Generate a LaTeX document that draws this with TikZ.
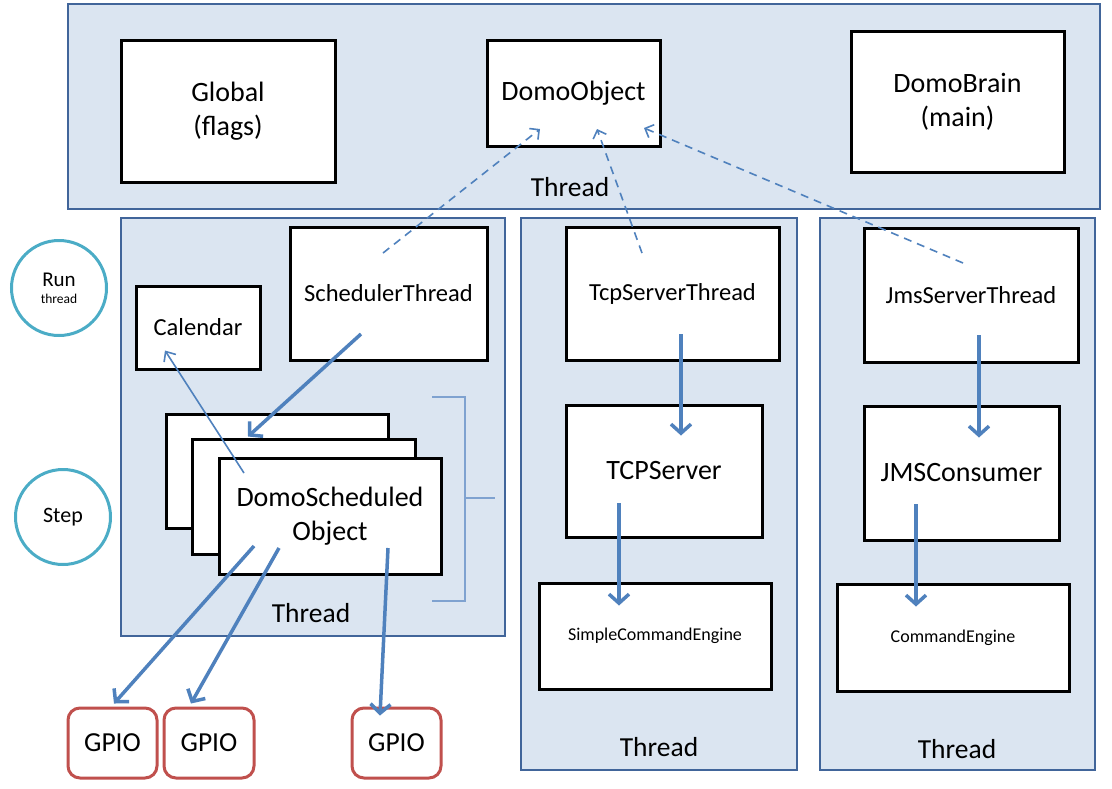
\documentclass[tikz,border=0pt]{standalone}
\usepackage{fontspec}
\setmainfont{Carlito}
\usetikzlibrary{arrows.meta, positioning, calc}
\definecolor{threadfill}{HTML}{DBE5F1}
\definecolor{threadline}{HTML}{41659A}
\definecolor{flowblue}{HTML}{4F81BD}
\definecolor{ringblue}{HTML}{4BACC6}
\definecolor{gpiored}{HTML}{C0504D}
\definecolor{bracketblue}{HTML}{7FA2D0}
\tikzset{
    thread/.style={draw=threadline, fill=threadfill, line width=2.5pt, inner sep=0pt},
    obj/.style={draw, fill=white, line width=3pt, align=center, inner sep=0pt, font=\fontsize{28}{34}\selectfont},
    smallobj/.style={obj, font=\fontsize{24.5}{30}\selectfont},
    tinyobj/.style={obj, font=\fontsize{18}{22}\selectfont},
    gpio/.style={draw=gpiored, fill=white, line width=3pt, rounded corners=12pt, minimum width=89pt, minimum height=70pt, inner sep=0pt, font=\fontsize{27.5}{33}\selectfont},
    ring/.style={draw=ringblue, circle, line width=3pt, minimum size=95pt, inner sep=0pt, align=center},
    flow/.style={draw=flowblue, line width=3.5pt, -{Straight Barb[length=9pt, width=20pt]}},
    link/.style={draw=flowblue, line width=1.6pt, dash pattern=on 8pt off 6pt, -{Straight Barb[length=7pt, width=14pt]}},
    threadlbl/.style={font=\fontsize{27.5}{33}\selectfont, inner sep=0pt}
}

\begin{document}
\begin{tikzpicture}[x=1pt, y=-1pt]
    \useasboundingbox (0,0) rectangle (1112,788);
    % Thread areas
    \node[thread, minimum width=1032pt, minimum height=205pt] (topthr) at (584,106.5) {};
    \node[thread, minimum width=384pt, minimum height=418pt] (leftthr) at (313,427) {};
    \node[thread, minimum width=276pt, minimum height=552pt] (midthr) at (659,494) {};
    \node[thread, minimum width=275pt, minimum height=552pt] (rightthr) at (957.5,494) {};
    \node[threadlbl] (toplbl) at (570,187) {Thread};
    \node[threadlbl] (leftlbl) at (311,613) {Thread};
    \node[threadlbl] (midlbl) at (659,747) {Thread};
    \node[threadlbl] (rightlbl) at (957,749) {Thread};
    % Top objects
    \node[obj, minimum width=214pt, minimum height=142pt] (global) at (228,111) {Global\\(flags)};
    \node[obj, minimum width=173pt, minimum height=106pt] (domoobj) at (573.5,93) {DomoObject};
    \node[obj, minimum width=213pt, minimum height=141pt] (brain) at (957.5,101.5) {DomoBrain\\(main)};
    % Scheduler thread
    \node[smallobj, minimum width=197pt, minimum height=133pt] (sched) at (388.5,293.5) {SchedulerThread};
    \node[smallobj, minimum width=124pt, minimum height=83pt] (calendar) at (198,327.5) {Calendar};
    \node[obj, minimum width=222pt, minimum height=114pt] (back) at (277,471) {};
    \node[obj, minimum width=223pt, minimum height=115pt] (mid) at (303.5,496.5) {};
    \node[obj, minimum width=222pt, minimum height=116pt] (front) at (330,516) {DomoScheduled\\Object};
    % Tcp thread
    \node[smallobj, minimum width=213pt, minimum height=133pt] (tcpthr) at (672.5,293.5) {TcpServerThread};
    \node[obj, minimum width=196pt, minimum height=132pt] (tcpsrv) at (664,471) {TCPServer};
    \node[tinyobj, minimum width=232pt, minimum height=106pt] (simple) at (655,636) {SimpleCommandEngine};
    % Jms thread
    \node[smallobj, minimum width=214pt, minimum height=134pt] (jmsthr) at (971,295) {JmsServerThread};
    \node[obj, minimum width=195pt, minimum height=134pt] (jmscons) at (961.5,473) {JMSConsumer};
    \node[tinyobj, minimum width=232pt, minimum height=107pt] (cmdeng) at (953,637.5) {CommandEngine};
    % GPIO
    \node[gpio] (gpio1) at (112.5,743) {GPIO};
    \node[gpio, minimum width=90pt] (gpio2) at (209,743) {GPIO};
    \node[gpio] (gpio3) at (396.5,743) {GPIO};
    % Run / Step
    \node[ring] (run) at (59,288) {\fontsize{21}{21}\selectfont Run\\[5pt]{\fontsize{13.5}{15}\selectfont thread}};
    \node[ring] (step) at (63,517) {\fontsize{22}{24}\selectfont Step};
    % Bracket
    \coordinate (brk) at (465,498);
    \draw[bracketblue, line width=1.2pt] (432,397) -| (brk) |- (432,601);
    \draw[bracketblue, line width=1.2pt] (brk) -- ++(30,0);
    % Solid arrows
    \draw[flow] ($(sched.center)+(-27.5,40.5)$) -- ($(mid.north)+(-55.5,-1)$);
    \draw[flow] ($(front.center)+(-76,30)$) -- ($(gpio1.north)+(1.5,-3)$);
    \draw[flow] ($(front.center)+(-51,32)$) -- ($(gpio2.north)+(-18,-3)$);
    \draw[flow] ($(front.center)+(58,32)$) -- ($(gpio3.north)+(-16.5,9)$);
    \draw[flow] ($(tcpthr.center)+(8.5,40.5)$) -- ($(tcpsrv.north)+(17,32)$);
    \draw[flow] ($(tcpsrv.center)+(-45,32)$) -- ($(simple.north)+(-36,24)$);
    \draw[flow] ($(jmsthr.center)+(8,40)$) -- ($(jmscons.north)+(17.5,33)$);
    \draw[flow] ($(jmscons.center)+(-45.5,31)$) -- ($(cmdeng.north)+(-37,24)$);
    \draw[draw=flowblue, line width=1.6pt, -{Straight Barb[length=8pt, width=14pt]}] ($(front.center)+(-86,-43)$) -- ($(calendar.south)+(-33,-20)$);
    % Dashed links to DomoObject
    \draw[link] ($(sched.center)+(-5.5,-40.5)$) -- ($(domoobj.center)+(-33.5,36)$);
    \draw[link] ($(tcpthr.center)+(-30.5,-40.5)$) -- ($(domoobj.center)+(23.5,36)$);
    \draw[link] ($(jmsthr.center)+(-8,-32)$) -- ($(domoobj.center)+(70.5,35)$);
\end{tikzpicture}
\end{document}
